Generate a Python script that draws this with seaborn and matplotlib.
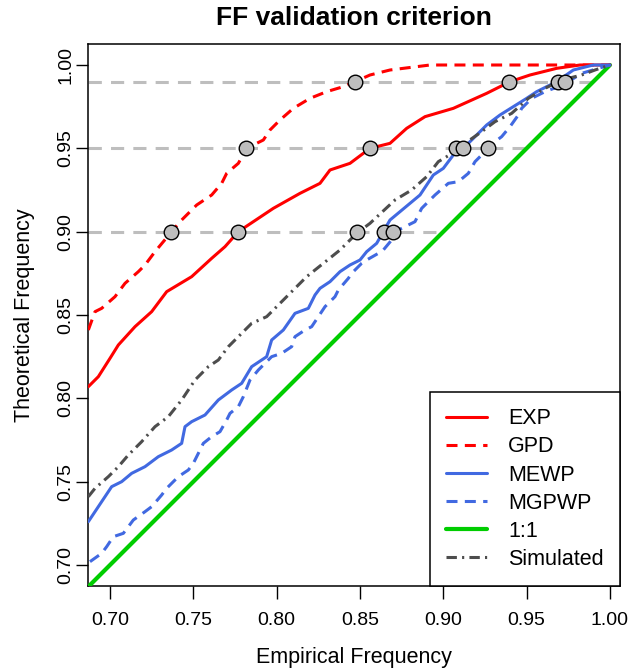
import matplotlib
matplotlib.use("Agg")
import matplotlib.pyplot as plt
from matplotlib.lines import Line2D
import pandas as pd
import seaborn as sns

# ── data ─────────────────────────────────────────────────────────────────────
EXP_X = [0.687, 0.693, 0.700, 0.705, 0.715, 0.725, 0.734, 0.749, 0.761, 0.769,
         0.777, 0.786, 0.798, 0.814, 0.826, 0.832, 0.844, 0.856, 0.868, 0.878,
         0.889, 0.906, 0.926, 0.936, 0.940, 0.952, 0.968, 0.982, 1.000]
EXP_Y = [0.807, 0.813, 0.824, 0.832, 0.843, 0.852, 0.864, 0.873, 0.884, 0.891,
         0.900, 0.906, 0.914, 0.923, 0.929, 0.937, 0.941, 0.950, 0.953, 0.962,
         0.969, 0.974, 0.983, 0.988, 0.990, 0.994, 0.998, 1.000, 1.000]

GPD_X = [0.687, 0.691, 0.695, 0.703, 0.709, 0.717, 0.721, 0.727, 0.732, 0.737,
         0.742, 0.752, 0.761, 0.767, 0.770, 0.777, 0.782, 0.792, 0.796, 0.802,
         0.810, 0.820, 0.830, 0.840, 0.847, 0.856, 0.868, 0.892, 0.940, 1.000]
GPD_Y = [0.841, 0.852, 0.854, 0.861, 0.869, 0.876, 0.880, 0.888, 0.894, 0.900,
         0.906, 0.916, 0.922, 0.929, 0.935, 0.941, 0.950, 0.955, 0.961, 0.967,
         0.974, 0.980, 0.984, 0.987, 0.990, 0.994, 0.997, 1.000, 1.000, 1.000]

MEWP_X = [0.687, 0.693, 0.697, 0.701, 0.707, 0.713, 0.721, 0.729, 0.737, 0.743,
          0.745, 0.749, 0.757, 0.765, 0.773, 0.779, 0.785, 0.794, 0.797, 0.804,
          0.811, 0.819, 0.823, 0.826, 0.832, 0.838, 0.844, 0.850, 0.854, 0.860,
          0.864, 0.868, 0.886, 0.894, 0.900, 0.906, 0.912, 0.920, 0.926, 0.934,
          0.942, 0.950, 0.956, 0.968, 0.978, 0.990, 1.000]
MEWP_Y = [0.726, 0.735, 0.741, 0.747, 0.750, 0.755, 0.759, 0.765, 0.769, 0.773,
          0.783, 0.786, 0.790, 0.799, 0.805, 0.809, 0.819, 0.825, 0.835, 0.841,
          0.851, 0.854, 0.862, 0.866, 0.870, 0.876, 0.880, 0.883, 0.888, 0.893,
          0.900, 0.907, 0.922, 0.934, 0.938, 0.946, 0.950, 0.958, 0.964, 0.970,
          0.975, 0.980, 0.984, 0.990, 0.997, 1.000, 1.000]

MGPWP_X = [0.688, 0.695, 0.698, 0.702, 0.708, 0.714, 0.721, 0.725, 0.731, 0.734,
           0.741, 0.747, 0.750, 0.754, 0.756, 0.761, 0.766, 0.770, 0.772, 0.777,
           0.780, 0.784, 0.789, 0.797, 0.803, 0.809, 0.811, 0.817, 0.821, 0.825,
           0.829, 0.835, 0.837, 0.843, 0.845, 0.851, 0.854, 0.861, 0.864, 0.869,
           0.871, 0.877, 0.883, 0.887, 0.895, 0.903, 0.909, 0.915, 0.919, 0.923,
           0.928, 0.931, 0.935, 0.940, 0.945, 0.947, 0.953, 0.961, 0.969, 0.975,
           0.983, 0.993, 1.000]
MGPWP_Y = [0.702, 0.707, 0.711, 0.717, 0.719, 0.727, 0.732, 0.735, 0.742, 0.746,
           0.753, 0.757, 0.761, 0.769, 0.773, 0.777, 0.780, 0.787, 0.791, 0.795,
           0.801, 0.811, 0.817, 0.825, 0.827, 0.831, 0.837, 0.841, 0.843, 0.849,
           0.855, 0.861, 0.865, 0.872, 0.875, 0.881, 0.883, 0.887, 0.889, 0.895,
           0.900, 0.903, 0.906, 0.914, 0.922, 0.929, 0.930, 0.935, 0.942, 0.946,
           0.950, 0.954, 0.957, 0.963, 0.970, 0.974, 0.980, 0.984, 0.987, 0.990,
           0.995, 0.998, 1.000]

SIM_X = [0.687, 0.691, 0.699, 0.705, 0.711, 0.719, 0.727, 0.735, 0.743, 0.751,
         0.759, 0.765, 0.771, 0.779, 0.785, 0.794, 0.800, 0.808, 0.818, 0.828,
         0.838, 0.848, 0.856, 0.871, 0.881, 0.890, 0.897, 0.907, 0.913, 0.923,
         0.931, 0.941, 0.951, 0.961, 0.971, 0.983, 0.991, 1.000]
SIM_Y = [0.741, 0.746, 0.753, 0.759, 0.766, 0.774, 0.783, 0.789, 0.799, 0.811,
         0.819, 0.823, 0.831, 0.839, 0.845, 0.849, 0.855, 0.863, 0.873, 0.881,
         0.889, 0.899, 0.905, 0.919, 0.925, 0.933, 0.942, 0.948, 0.953, 0.960,
         0.966, 0.971, 0.980, 0.986, 0.991, 0.994, 0.997, 1.000]

# reference levels and where each curve crosses them
LEVELS = [0.90, 0.95, 0.99]
CROSS_X = [0.7363, 0.7765, 0.8481, 0.8641, 0.8697,
           0.7818, 0.8557, 0.9076, 0.9116, 0.9265,
           0.8467, 0.9395, 0.9685, 0.9731]
CROSS_Y = [0.90] * 5 + [0.95] * 5 + [0.99] * 4

ONE_TO_ONE = [0.68, 1.00]
TICKS = [0.70, 0.75, 0.80, 0.85, 0.90, 0.95, 1.00]

# ── style ─────────────────────────────────────────────────────────────────────
sns.set_style("ticks")
plt.rcParams['font.family'] = ['Liberation Sans', 'DejaVu Sans']
plt.rcParams.update({"text.color": "black", "axes.labelcolor": "black",
                     "xtick.color": "black", "ytick.color": "black",
                     "axes.edgecolor": "black"})

RED, BLUE, GREEN, DARK = "#FF0000", "#4169E1", "#00CD00", "#4D4D4D"
LW = 2.2
DASH = (0, (3.6, 2.4))
DOTDASH = (0, (3.4, 1.7, 0.7, 1.7))

fig = plt.figure(figsize=(6.32, 6.70), dpi=100)
ax = fig.add_axes([88 / 632, 84 / 670, 532 / 632, 542 / 670])

# horizontal reference segments
for lv in LEVELS:
    ax.plot([0.60, lv], [lv, lv], color="#BEBEBE", lw=2.2,
            linestyle=(0, (4.3, 3.0)), zorder=1)

def draw(xs, ys, color, ls, lw=LW):
    d = pd.DataFrame({"x": xs, "y": ys})
    sns.lineplot(data=d, x="x", y="y", sort=False, estimator=None, ax=ax,
                 color=color, linestyle=ls, lw=lw, zorder=3)

draw(ONE_TO_ONE, ONE_TO_ONE, GREEN, "-", lw=3.0)
draw(EXP_X, EXP_Y, RED, "-")
draw(GPD_X, GPD_Y, RED, DASH)
draw(MEWP_X, MEWP_Y, BLUE, "-")
draw(MGPWP_X, MGPWP_Y, BLUE, DASH)
draw(SIM_X, SIM_Y, DARK, DOTDASH)

sns.scatterplot(x=CROSS_X, y=CROSS_Y, ax=ax, s=110, color="#BEBEBE",
                edgecolor="black", linewidth=1.0, zorder=5)

ax.set_xlim(0.6868, 1.0060)
ax.set_ylim(0.6874, 1.0126)
ax.set_xticks(TICKS)
ax.set_yticks(TICKS)
ax.set_xticklabels([f"{t:.2f}" for t in TICKS], fontsize=14)
ax.set_yticklabels([f"{t:.2f}" for t in TICKS], fontsize=14,
                   rotation=90, va="center")
ax.tick_params(axis="both", length=9, width=1.0, color="black")
ax.tick_params(axis="x", pad=9.5)
ax.tick_params(axis="y", pad=1)
for sp in ax.spines.values():
    sp.set_visible(True)
    sp.set_color("black")
    sp.set_linewidth(1.1)

ax.set_xlabel("Empirical Frequency", fontsize=15.5, va="center")
ax.set_ylabel("Theoretical Frequency", fontsize=15.5, va="center")
ax.xaxis.set_label_coords(0.5, (586 - 657) / 542)
ax.yaxis.set_label_coords((25 - 88) / 532, 0.5)
fig.text(354 / 632, 1 - 18 / 670, "FF validation criterion", fontsize=19,
         fontweight="bold", ha="center", va="center")

handles = [
    Line2D([], [], color=RED, lw=LW, linestyle="-"),
    Line2D([], [], color=RED, lw=LW, linestyle=DASH),
    Line2D([], [], color=BLUE, lw=LW, linestyle="-"),
    Line2D([], [], color=BLUE, lw=LW, linestyle=DASH),
    Line2D([], [], color=GREEN, lw=3.0, linestyle="-"),
    Line2D([], [], color=DARK, lw=LW, linestyle=DOTDASH),
]
labels = ["EXP", "GPD", "MEWP", "MGPWP", "1:1", "Simulated"]
leg = ax.legend(handles, labels, loc="lower right", bbox_to_anchor=(1, 0),
                borderaxespad=0, fontsize=15.5, frameon=True, fancybox=False,
                framealpha=1, edgecolor="black", handlelength=1.9,
                handletextpad=1.0, labelspacing=0.33, borderpad=0.75)
leg.get_frame().set_linewidth(1.1)

fig.savefig("out.png", dpi=100)
